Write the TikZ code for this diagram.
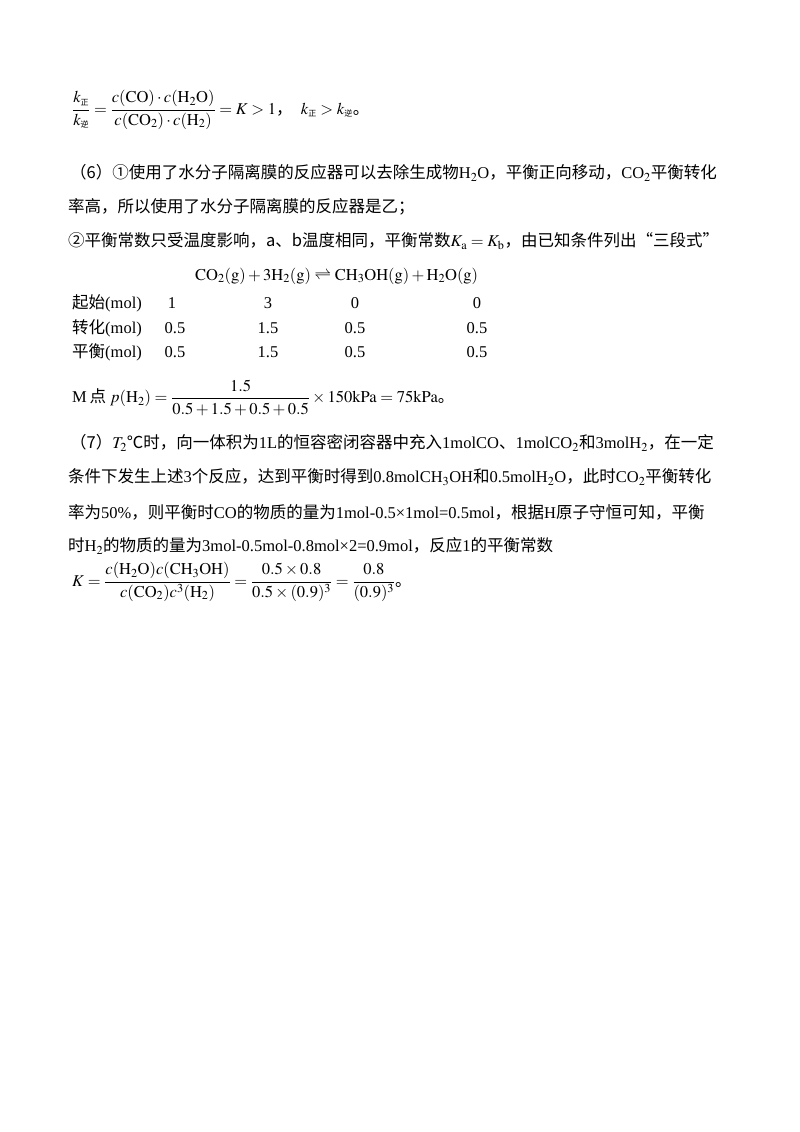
\documentclass[tikz,border=0pt]{standalone}
\usepackage{mathtools}
\usepackage{mathptmx}
\usepackage{fontspec}
\setmainfont{Liberation Serif}
\newfontfamily\cjk{Noto Sans CJK SC}
\newcommand{\zh}[1]{{\cjk #1}}
\newcommand{\sz}[1]{\hbox{\cjk\fontsize{8}{9}\selectfont #1}}
\begin{document}
\begin{tikzpicture}[x=1pt,y=-1pt,
  line/.style={anchor=west,inner sep=0pt,font=\fontsize{16.5}{19}\selectfont},
  cell/.style={anchor=center,inner sep=0pt,font=\fontsize{16.5}{19}\selectfont}]
\useasboundingbox (0,0) rectangle (800,1132);
\node[line] (l1) at (72,110) {$\dfrac{k_{\sz{正}}}{k_{\sz{逆}}}=\dfrac{c(\mathrm{CO})\cdot c(\mathrm{H_2O})}{c(\mathrm{CO_2})\cdot c(\mathrm{H_2})}=K>1$\zh{，}\ \ $k_{\sz{正}}>k_{\sz{逆}}$\zh{。}};
\node[line] (l2) at (70,173) {\zh{（6）①使用了水分子隔离膜的反应器可以去除生成物}H$_2$O\zh{，平衡正向移动，}CO$_2$\zh{平衡转化}};
\node[line] (l3) at (68,207) {\zh{率高，所以使用了水分子隔离膜的反应器是乙；}};
\node[line] (l4) at (68,241) {\zh{②平衡常数只受温度影响，a、b温度相同，平衡常数}$K_\mathrm{a}=K_\mathrm{b}$\zh{，由已知条件列出“三段式”}};
\node[line] (eq) at (195,276) {$\mathrm{CO_2(g)+3H_2(g)}\rightleftharpoons\mathrm{CH_3OH(g)+H_2O(g)}$};
\node[line] (r1) at (72,303) {\zh{起始}(mol)};
\node[line] (r2) at (72,328) {\zh{转化}(mol)};
\node[line] (r3) at (72,352) {\zh{平衡}(mol)};
\node[cell] (a1) at (172,303) {1};
\node[cell] (b1) at (268,303) {3};
\node[cell] (c1) at (355,303) {0};
\node[cell] (d1) at (477,303) {0};
\node[cell] (a2) at (175,328) {0.5};
\node[cell] (b2) at (268,328) {1.5};
\node[cell] (c2) at (355,328) {0.5};
\node[cell] (d2) at (477,328) {0.5};
\node[cell] (a3) at (175,352) {0.5};
\node[cell] (b3) at (268,352) {1.5};
\node[cell] (c3) at (355,352) {0.5};
\node[cell] (d3) at (477,352) {0.5};
\node[line] (m) at (72,398) {M\,\zh{点} $p(\mathrm{H_2})=\dfrac{1.5}{0.5+1.5+0.5+0.5}\times150\mathrm{kPa}=75\mathrm{kPa}$\zh{。}};
\node[line] (l7) at (70,443) {\zh{（7）}$T_2$\zh{℃时，向一体积为}1L\zh{的恒容密闭容器中充入}1molCO\zh{、}1molCO$_2$\zh{和}3molH$_2$\zh{，在一定}};
\node[line] (l8) at (68,477) {\zh{条件下发生上述}3\zh{个反应，达到平衡时得到}0.8molCH$_3$OH\zh{和}0.5molH$_2$O\zh{，此时}CO$_2$\zh{平衡转化}};
\node[line] (l9) at (68,512) {\zh{率为}50\%\zh{，则平衡时}CO\zh{的物质的量为}1mol-0.5×1mol=0.5mol\zh{，根据}H\zh{原子守恒可知，平衡}};
\node[line] (l10) at (68,546) {\zh{时}H$_2$\zh{的物质的量为}3mol-0.5mol-0.8mol×2=0.9mol\zh{，反应}1\zh{的平衡常数}};
\node[line] (kf) at (72,582) {$K=\dfrac{c(\mathrm{H_2O})c(\mathrm{CH_3OH})}{c(\mathrm{CO_2})c^3(\mathrm{H_2})}=\dfrac{0.5\times0.8}{0.5\times(0.9)^3}=\dfrac{0.8}{(0.9)^3}$\zh{。}};
\end{tikzpicture}
\end{document}
